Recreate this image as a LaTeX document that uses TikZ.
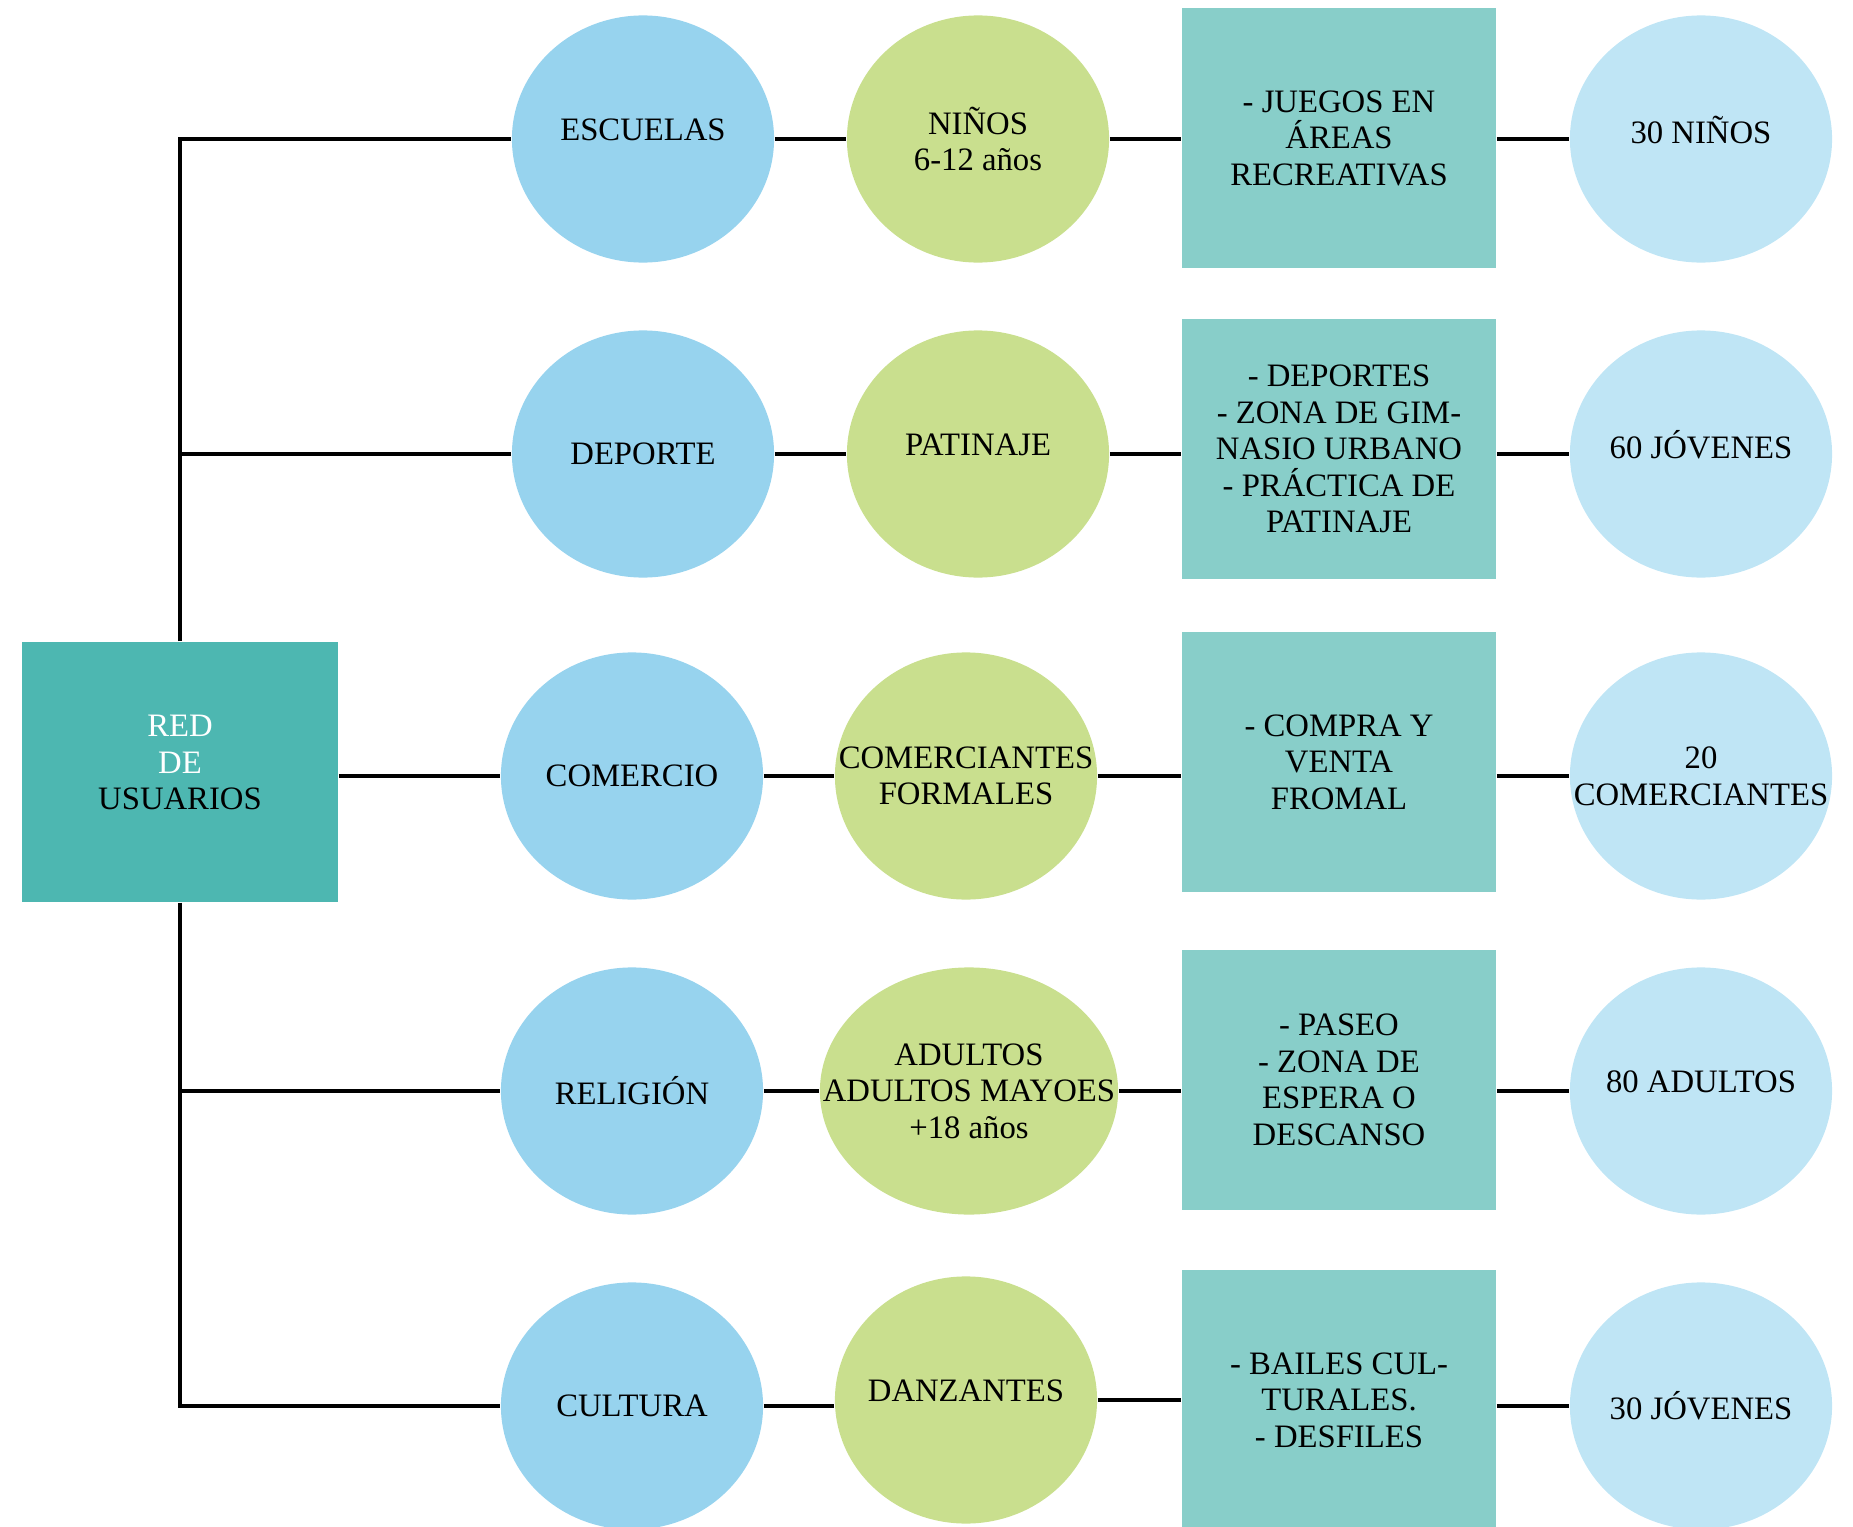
\documentclass[tikz,border=0pt]{standalone}
\usepackage{fontspec}
\setmainfont{Liberation Serif}
\usetikzlibrary{shapes.geometric}
\definecolor{croot}{HTML}{4DB7B1}
\definecolor{cbox}{HTML}{88CEC9}
\definecolor{cblue}{HTML}{97D3EE}
\definecolor{cgreen}{HTML}{C9DF8E}
\definecolor{clight}{HTML}{BFE5F5}
\tikzset{
  base/.style={inner sep=0pt, align=center, font=\fontsize{9.3}{10.4}\selectfont, text=black},
  bub/.style={base, ellipse, fill=#1, minimum width=2.62cm, minimum height=2.47cm},
  box/.style={base, rectangle, fill=#1, minimum width=3.14cm, minimum height=2.60cm},
  txt/.style={align=center, font=\fontsize{9.3}{10.4}\selectfont, text=black},
  lift/.style={yshift=2.7pt},
  link/.style={line width=0.9pt, draw=black},
}

\begin{document}
\begin{tikzpicture}[x=0.01cm,y=-0.01cm]
    \useasboundingbox (0,0) rectangle (1853,1527);
    \clip (0,0) rectangle (1853,1527);
    % raiz
    \node[box=croot, minimum width=3.16cm, minimum height=2.60cm,
      label={[txt,lift]center:{\textcolor{white}{RED}\\\textcolor{white}{DE}\\USUARIOS}}] (red) at (180,772) {};
    % fila 1
    \node[bub=cblue, label={[txt,lift]center:ESCUELAS}] (b1) at (643,139) {};
    \node[bub=cgreen, label={[txt]center:{NIÑOS\\6-12 años}}] (g1) at (978,139) {};
    \node[box=cbox] (r1) at (1339,138) {- JUEGOS EN\\ÁREAS\\RECREATIVAS};
    \node[bub=clight, label={[txt,lift]center:30 NIÑOS}] (c1) at (1701,139) {};
    % fila 2
    \node[bub=cblue, label={[txt]center:DEPORTE}] (b2) at (643,454) {};
    \node[bub=cgreen, label={[txt,lift]center:PATINAJE}] (g2) at (978,454) {};
    \node[box=cbox] (r2) at (1339,449) {- DEPORTES\\- ZONA DE GIM-\\NASIO URBANO\\- PRÁCTICA DE\\PATINAJE};
    \node[bub=clight, label={[txt,lift]center:60 JÓVENES}] (c2) at (1701,454) {};
    % fila 3
    \node[bub=cblue, label={[txt]center:COMERCIO}] (b3) at (632,776) {};
    \node[bub=cgreen, label={[txt]center:{COMERCIANTES\\FORMALES}}] (g3) at (966,776) {};
    \node[box=cbox] (r3) at (1339,762) {- COMPRA Y\\VENTA\\FROMAL};
    \node[bub=clight, label={[txt]center:{20\\COMERCIANTES}}] (c3) at (1701,776) {};
    % fila 4
    \node[bub=cblue, label={[txt]center:RELIGIÓN}] (b4) at (632,1091) {};
    \node[bub=cgreen, minimum width=2.98cm, label={[txt]center:{ADULTOS\\ADULTOS MAYOES\\+18 años}}] (g4) at (969,1091) {};
    \node[box=cbox] (r4) at (1339,1080) {- PASEO\\- ZONA DE\\ESPERA O\\DESCANSO};
    \node[bub=clight, label={[txt,lift]center:80 ADULTOS}] (c4) at (1701,1091) {};
    % fila 5
    \node[bub=cblue, label={[txt]center:CULTURA}] (b5) at (632,1406) {};
    \node[bub=cgreen, label={[txt,lift]center:DANZANTES}] (g5) at (966,1400) {};
    \node[box=cbox] (r5) at (1339,1400) {- BAILES CUL-\\TURALES.\\- DESFILES};
    \node[bub=clight, label={[txt]center:30 JÓVENES}] (c5) at (1701,1406) {};
    % conectores
    \draw[link] (red.north) |- (b1.west);
    \draw[link] (red.north) |- (b2.west);
    \draw[link] (red.east |- b3) -- (b3.west);
    \draw[link] (red.south) |- (b4.west);
    \draw[link] (red.south) |- (b5.west);
    \foreach \i in {1,...,5} {
      \draw[link] (b\i.east) -- (b\i.east -| g\i.west);
      \draw[link] (g\i.east) -- (g\i.east -| r\i.west);
      \draw[link] (r\i.east |- c\i) -- (c\i.west);
    }
  \end{tikzpicture}
\end{document}
